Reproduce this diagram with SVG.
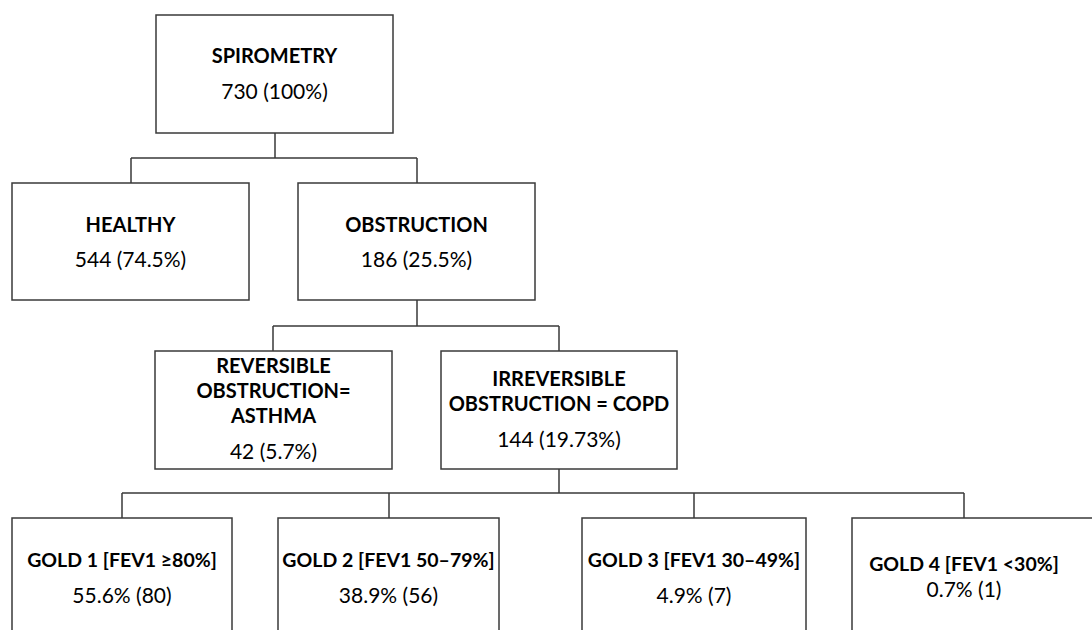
<svg xmlns="http://www.w3.org/2000/svg" width="1092" height="630" viewBox="0 0 1092 630">
<style>
rect{fill:#fff;stroke:#3a3a3a;stroke-width:1.5}
.c path{fill:none;stroke:#3a3a3a;stroke-width:1.5}
text{font-family:Lato,"Liberation Sans",sans-serif;font-size:21px;fill:#000;text-anchor:middle}
.b{font-weight:bold;font-size:20px}
.g{font-size:19.5px}
</style>
<rect width="1092" height="630" style="fill:#fff;stroke:none"/>
<g class="c" id="connectors">
<path d="M275,133V158M131,158H417M131,158V183M417,158V183"/>
<path d="M417,300V326M273,326H559M273,326V351M559,326V351"/>
<path d="M559,469V493M122,493H964M122,493V518M389,493V518M694,493V518M964,493V518"/>
</g>
<g id="spirometry"><rect x="156" y="15" width="237" height="118"/><text class="b" x="274.5" y="63">SPIROMETRY</text><text x="274.5" y="99">730 (100%)</text></g>
<g id="healthy"><rect x="12" y="183" width="237" height="117"/><text class="b" x="130.5" y="232">HEALTHY</text><text x="130.5" y="267">544 (74.5%)</text></g>
<g id="obstruction"><rect x="298" y="183" width="237" height="117"/><text class="b" x="416.5" y="232">OBSTRUCTION</text><text x="416.5" y="267">186 (25.5%)</text></g>
<g id="asthma"><rect x="155" y="351" width="237" height="118"/><text class="b" x="273.5" y="373">REVERSIBLE</text><text class="b" x="273.5" y="398">OBSTRUCTION=</text><text class="b" x="273.5" y="423">ASTHMA</text><text x="273.5" y="459">42 (5.7%)</text></g>
<g id="copd"><rect x="441" y="351" width="236" height="118"/><text class="b" x="559" y="386">IRREVERSIBLE</text><text class="b" x="559" y="411">OBSTRUCTION = COPD</text><text x="559" y="447">144 (19.73%)</text></g>
<g id="gold1"><rect x="12" y="518" width="220" height="130"/><text class="b g" x="122" y="567">GOLD 1 [FEV1 ≥80%]</text><text x="122" y="603">55.6% (80)</text></g>
<g id="gold2"><rect x="278" y="518" width="221" height="130"/><text class="b g" x="388.5" y="567">GOLD 2 [FEV1 50–79%]</text><text x="388.5" y="603">38.9% (56)</text></g>
<g id="gold3"><rect x="582" y="518" width="224" height="130"/><text class="b g" x="694" y="567">GOLD 3 [FEV1 30–49%]</text><text x="694" y="603">4.9% (7)</text></g>
<g id="gold4"><rect x="852" y="518" width="250" height="130"/><text class="b g" x="964" y="571">GOLD 4 [FEV1 &lt;30%]</text><text x="964" y="597">0.7% (1)</text></g>
</svg>
